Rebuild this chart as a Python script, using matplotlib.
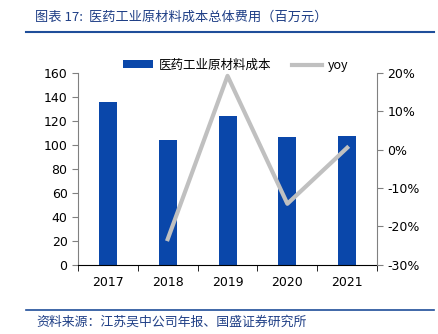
import matplotlib
matplotlib.use('Agg')
import matplotlib.pyplot as plt
import numpy as np

plt.rcParams['font.family'] = ['DejaVu Sans', 'Noto Sans CJK SC']

years = ['2017', '2018', '2019', '2020', '2021']
cost = [135.6, 104.0, 124.0, 106.5, 107.0]
yoy = [None, -23.3, 19.2, -14.1, 0.5]

title = '图表 17:  医药工业原材料成本总体费用（百万元）'
source = '资料来源：江苏吴中公司年报、国盛证券研究所'
bar_label = '医药工业原材料成本'
line_label = 'yoy'

blue = '#0A47AA'
grey = '#C0C0C0'
navy = '#1F3F86'

fig = plt.figure(figsize=(4.38, 3.34), dpi=100)
ax = fig.add_axes([0.178, 0.207, 0.683, 0.575])

x = np.arange(len(years))
ax.bar(x, cost, width=0.3, color=blue, label=bar_label, zorder=2)
ax.set_xlim(-0.5, len(years) - 0.5)
ax.set_ylim(0, 160)
ax.set_yticks(np.arange(0, 161, 20))
ax.set_xticks(x)
ax.set_xticklabels(years)
ax.set_xticks(np.arange(-0.5, len(years), 1), minor=True)
ax.tick_params(axis='x', which='major', length=0, pad=8, labelsize=9)
ax.tick_params(axis='x', which='minor', length=4, direction='out', color='black')
ax.tick_params(axis='y', length=4, direction='out', color='#808080', labelsize=9)
ax.spines['top'].set_visible(False)
ax.spines['right'].set_visible(False)
ax.spines['left'].set_color('#808080')
ax.spines['bottom'].set_color('black')

ax2 = ax.twinx()
xs = [i for i, v in enumerate(yoy) if v is not None]
vs = [v for v in yoy if v is not None]
ax2.plot(xs, vs, color=grey, lw=3, label=line_label, zorder=3)
ax2.set_ylim(-30, 20)
ax2.set_yticks(np.arange(-30, 21, 10))
ax2.set_yticklabels([f'{t}%' for t in range(-30, 21, 10)])
ax2.tick_params(axis='y', length=4, direction='out', color='#808080', labelsize=9)
for s in ['top', 'left', 'bottom']:
    ax2.spines[s].set_visible(False)
ax2.spines['right'].set_color('#808080')

h1, l1 = ax.get_legend_handles_labels()
h2, l2 = ax2.get_legend_handles_labels()
leg = fig.legend(h1 + h2, l1 + l2, loc='center', bbox_to_anchor=(0.538, 0.805),
                 ncol=2, frameon=False, handlelength=2.4,
                 handleheight=0.55, columnspacing=1.6, handletextpad=0.5,
                 prop={'family': ['Noto Sans CJK SC', 'DejaVu Sans'], 'size': 9})

# header and footer
fig.text(0.08, 0.948, title, color=navy, fontsize=9.5, va='center',
         family=['Noto Sans CJK SC'], style='italic')
fig.add_artist(plt.Line2D([0.06, 0.99], [0.904, 0.904], color='#1F4E9A', lw=1.5))
fig.add_artist(plt.Line2D([0.06, 0.99], [0.072, 0.072], color='#1F4E9A', lw=1.2))
fig.text(0.083, 0.035, source, color=navy, fontsize=9.3, va='center',
         family=['Noto Sans CJK SC'], style='italic')

fig.savefig('out.png', dpi=100)
